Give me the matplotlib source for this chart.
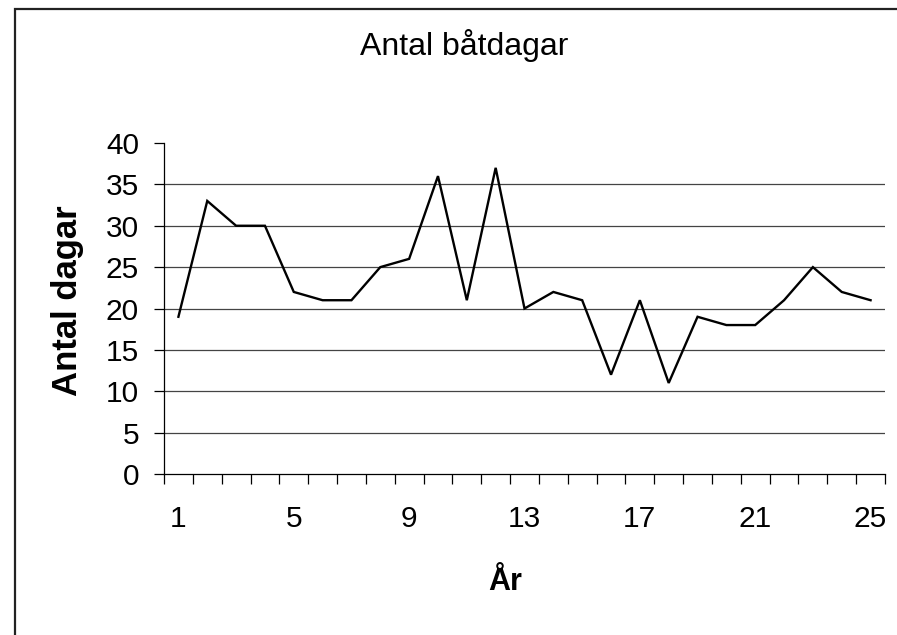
import matplotlib
matplotlib.use("Agg")
import matplotlib.pyplot as plt
from matplotlib.patches import Rectangle
import numpy as np

years = list(range(1, 26))
days = [19, 33, 30, 30, 22, 21, 21, 25, 26, 36, 21, 37, 20,
        22, 21, 12, 21, 11, 19, 18, 18, 21, 25, 22, 21]
xtick_labels = [1, 5, 9, 13, 17, 21, 25]
yticks = [0, 5, 10, 15, 20, 25, 30, 35, 40]

plt.rcParams['font.family'] = ['Liberation Sans', 'DejaVu Sans']

W, H = 897, 635
fig = plt.figure(figsize=(W / 100, H / 100), dpi=100)
ax = fig.add_axes([164 / W, 1 - 474 / H, (885 - 164) / W, (474 - 143) / H])

ax.plot(years, days, color='black', lw=1.7, solid_joinstyle='miter')

ax.set_xlim(0.5, 25.5)
ax.set_ylim(0, 40)
for y in yticks[1:-1]:
    ax.axhline(y, color='#444444', lw=0.9, zorder=0)

ax.set_yticks(yticks)
ax.tick_params(axis='y', direction='out', length=7, width=0.9, pad=11, labelsize=21.5)
ax.set_xticks(xtick_labels)
ax.set_xticklabels([str(v) for v in xtick_labels])
ax.set_xticks(np.arange(0.5, 26, 1), minor=True)
ax.tick_params(axis='x', which='major', length=0, pad=22, labelsize=21.5)
ax.tick_params(axis='x', which='minor', direction='out', length=7, width=0.9)

for s in ['top', 'right']:
    ax.spines[s].set_visible(False)
for s in ['left', 'bottom']:
    ax.spines[s].set_linewidth(0.9)

fig.text(464 / W, 1 - 45 / H, 'Antal båtdagar', ha='center', va='center', fontsize=23)
fig.text(68 / W, 1 - 301 / H, 'Antal dagar', ha='center', va='center', fontsize=25,
         fontweight='bold', rotation=90)
fig.text(505 / W, 1 - 582 / H, 'År', ha='center', va='center', fontsize=22, fontweight='bold')

fig.add_artist(Rectangle((15 / W, -0.1), 1.2, 1 - 9 / H + 0.1, transform=fig.transFigure,
                         fill=False, edgecolor='#222222', lw=1.6))

fig.savefig('out.png', dpi=100)
